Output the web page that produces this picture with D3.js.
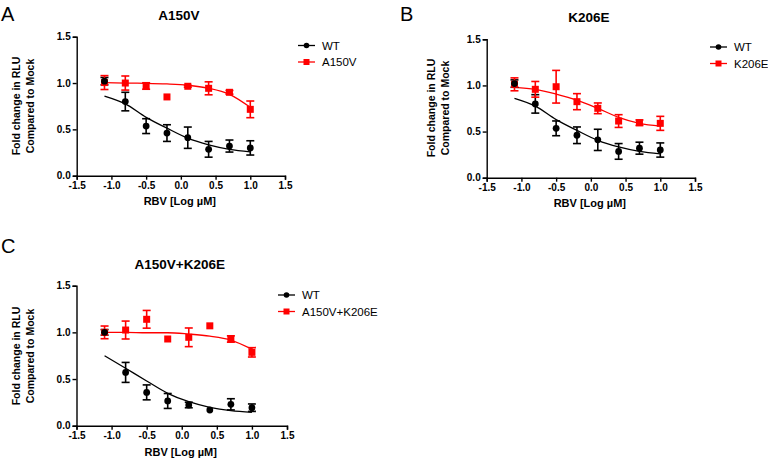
<!DOCTYPE html>
<html>
<head>
<meta charset="utf-8">
<script src="https://cdn.jsdelivr.net/npm/d3@7"></script>
<style>
  html, body { margin: 0; padding: 0; background: #fff; }
  svg { display: block; font-family: "Liberation Sans", Arial, sans-serif; }
</style>
</head>
<body>
<svg id="chart" width="768" height="461"></svg>
<script>
// ---------- data ----------
const doses = [-1.1, -0.8, -0.5, -0.2, 0.1, 0.4, 0.7, 1.0];
const xTicks = [-1.5, -1.0, -0.5, 0.0, 0.5, 1.0, 1.5];
const yTicks = [0.0, 0.5, 1.0, 1.5];

// WT control (panels A and B)
const wtMean = [1.02, 0.80, 0.535, 0.46, 0.41, 0.285, 0.32, 0.30];
const wtErr  = [0.04, 0.10, 0.08, 0.09, 0.115, 0.085, 0.065, 0.077];
const wtFit  = [0.86, 0.775, 0.63, 0.513, 0.405, 0.333, 0.285, 0.258];

// A150V
const a150vMean = [1.005, 1.0, 0.968, 0.85, 0.965, 0.943, 0.90, 0.716];
const a150vErr  = [0.075, 0.076, 0.035, 0, 0.01, 0.07, 0.02, 0.09];
const a150vFit  = [1.004, 1.0, 0.997, 0.99, 0.976, 0.943, 0.878, 0.738];

// K206E
const k206eMean = [1.012, 0.958, 0.986, 0.824, 0.752, 0.614, 0.596, 0.589];
const k206eErr  = [0.07, 0.085, 0.177, 0.087, 0.058, 0.069, 0.03, 0.076];
const k206eFit  = [0.98, 0.958, 0.907, 0.842, 0.752, 0.654, 0.589, 0.560];

// WT control (panel C)
const wtCMean = [1.0, 0.571, 0.357, 0.265, 0.222, 0.168, 0.229, 0.193];
const wtCErr  = [0.03, 0.107, 0.08, 0.08, 0.03, 0, 0.06, 0.04];
const wtCFit  = [0.75, 0.615, 0.479, 0.347, 0.257, 0.197, 0.161, 0.143];

// A150V+K206E
const dblMean = [1.0, 1.025, 1.14, 0.929, 0.947, 1.07, 0.929, 0.786];
const dblErr  = [0.068, 0.096, 0.095, 0, 0.1, 0, 0.034, 0.05];
const dblFit  = [1.0, 1.0, 0.996, 0.996, 0.982, 0.96, 0.918, 0.82];

const panels = [
  { letter: "A", title: "A150V", mutant: "A150V",
    wt: [wtMean, wtErr, wtFit], mut: [a150vMean, a150vErr, a150vFit],
    layout: { x0: 76.7, x1: 285, y0: 175.7, y1: 36.7, letterX: 1, letterY: 21,
              titleY: 20, xlabY: 205, ylabX: 20, ylabCY: 106,
              legX: 298, legY: 45.5 } },
  { letter: "B", title: "K206E", mutant: "K206E",
    wt: [wtMean, wtErr, wtFit], mut: [k206eMean, k206eErr, k206eFit],
    layout: { x0: 486.7, x1: 695, y0: 177.7, y1: 39.3, letterX: 400, letterY: 21,
              titleY: 21.5, xlabY: 207, ylabX: 434.5, ylabCY: 108,
              legX: 710, legY: 47 } },
  { letter: "C", title: "A150V+K206E", mutant: "A150V+K206E",
    wt: [wtCMean, wtCErr, wtCFit], mut: [dblMean, dblErr, dblFit],
    layout: { x0: 76.5, x1: 287, y0: 425.7, y1: 285.7, letterX: 1, letterY: 253,
              titleY: 269.3, xlabY: 456, ylabX: 20, ylabCY: 356,
              legX: 278, legY: 295 } }
];

const RED = "#ff0000";
const BLACK = "#000000";
const fmt = d => d3.format(".1f")(d).replace("\u2212", "-");

const svg = d3.select("#chart");

panels.forEach(p => {
  const L = p.layout;
  const x = d3.scaleLinear().domain([-1.5, 1.5]).range([L.x0, L.x1]);
  const y = d3.scaleLinear().domain([0, 1.5]).range([L.y0, L.y1]);
  const g = svg.append("g");

  // panel letter
  g.append("text").attr("x", L.letterX).attr("y", L.letterY)
    .attr("font-size", 20).attr("fill", "#000").text(p.letter);

  // title
  g.append("text").attr("x", (L.x0 + L.x1) / 2 - 2).attr("y", L.titleY)
    .attr("text-anchor", "middle").attr("font-size", 13.5).attr("font-weight", "bold")
    .text(p.title);

  // axes
  const xAxis = d3.axisBottom(x).tickValues(xTicks).tickFormat(fmt).tickSize(4).tickPadding(2).tickSizeOuter(4);
  const yAxis = d3.axisLeft(y).tickValues(yTicks).tickFormat(fmt).tickSize(4).tickPadding(2).tickSizeOuter(4);
  const gx = g.append("g").attr("transform", `translate(0,${L.y0})`).call(xAxis);
  const gy = g.append("g").attr("transform", `translate(${L.x0},0)`).call(yAxis);
  [gx, gy].forEach(a => {
    a.selectAll("path, line").attr("stroke", "#000").attr("stroke-width", 1.4);
    a.selectAll("text").attr("font-size", 10).attr("font-weight", "bold")
      .attr("fill", "#000").attr("font-family", "Liberation Sans, Arial, sans-serif");
  });

  // axis labels
  g.append("text").attr("x", (L.x0 + L.x1) / 2 - 1).attr("y", L.xlabY)
    .attr("text-anchor", "middle").attr("font-size", 11).attr("font-weight", "bold")
    .text("RBV [Log \u00b5M]");
  const yl = g.append("text")
    .attr("transform", `translate(${L.ylabX},${L.ylabCY}) rotate(-90)`)
    .attr("text-anchor", "middle").attr("font-size", 10.5).attr("font-weight", "bold");
  yl.append("tspan").attr("x", 0).attr("y", 0).text("Fold change in RLU");
  yl.append("tspan").attr("x", 0).attr("y", 14).text("Compared to Mock");

  const line = d3.line().x((d, i) => x(doses[i])).y(d => y(d)).curve(d3.curveMonotoneX);

  const wtS = { data: p.wt, color: BLACK, shape: "circle" };
  const mutS = { data: p.mut, color: RED, shape: "square" };

  const drawCurve = s => {
    g.append("path").datum(s.data[2]).attr("d", line)
      .attr("fill", "none").attr("stroke", s.color).attr("stroke-width", 1.3);
  };
  const drawErr = s => {
    const [mean, err] = s.data;
    const eb = g.append("g").attr("stroke", s.color).attr("stroke-width", 1.6);
    mean.forEach((m, i) => {
      if (!err[i]) return;
      const cx = x(doses[i]);
      eb.append("line").attr("x1", cx).attr("x2", cx).attr("y1", y(m - err[i])).attr("y2", y(m + err[i]));
      eb.append("line").attr("x1", cx - 4).attr("x2", cx + 4).attr("y1", y(m - err[i])).attr("y2", y(m - err[i]));
      eb.append("line").attr("x1", cx - 4).attr("x2", cx + 4).attr("y1", y(m + err[i])).attr("y2", y(m + err[i]));
    });
  };
  const drawMarks = s => {
    const mean = s.data[0];
    if (s.shape === "circle") {
      g.selectAll(null).data(mean).enter().append("circle")
        .attr("cx", (d, i) => x(doses[i])).attr("cy", d => y(d)).attr("r", 3.4)
        .attr("fill", s.color);
    } else {
      g.selectAll(null).data(mean).enter().append("rect")
        .attr("x", (d, i) => x(doses[i]) - 3.5).attr("y", d => y(d) - 3.5)
        .attr("width", 7).attr("height", 7).attr("fill", s.color);
    }
  };

  drawCurve(wtS); drawCurve(mutS);
  drawErr(wtS); drawErr(mutS);
  drawMarks(mutS); drawMarks(wtS);

  // legend
  const leg = g.append("g");
  const items = [
    { label: "WT", color: BLACK, shape: "circle" },
    { label: p.mutant, color: RED, shape: "square" }
  ];
  items.forEach((it, i) => {
    const ly = L.legY + i * 16.5;
    leg.append("line").attr("x1", L.legX).attr("x2", L.legX + 17).attr("y1", ly).attr("y2", ly)
      .attr("stroke", it.color).attr("stroke-width", 1.3);
    if (it.shape === "circle") {
      leg.append("circle").attr("cx", L.legX + 8.5).attr("cy", ly).attr("r", 2.8).attr("fill", it.color);
    } else {
      leg.append("rect").attr("x", L.legX + 5.5).attr("y", ly - 3).attr("width", 6).attr("height", 6).attr("fill", it.color);
    }
    leg.append("text").attr("x", L.legX + 24).attr("y", ly).attr("dy", "0.36em")
      .attr("font-size", 11.5).attr("fill", "#000").text(it.label);
  });
});
</script>
</body>
</html>
